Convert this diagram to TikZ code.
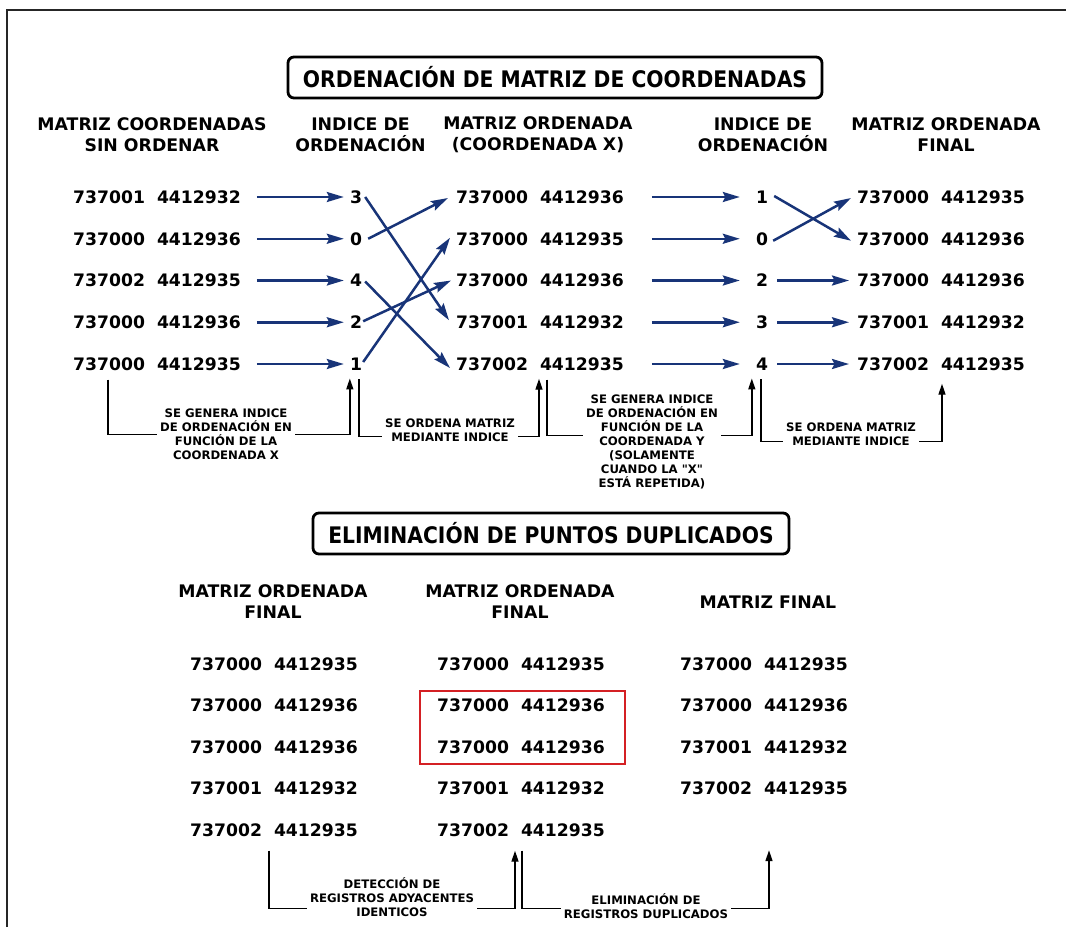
\documentclass[tikz,border=0pt]{standalone}
\usepackage{fontspec}
\setmainfont{DejaVu Sans}
\newfontfamily\titlefont[FakeStretch=0.89]{DejaVu Sans}
\newfontfamily\rawfont[Ligatures=TeXOff]{DejaVu Sans}
\usetikzlibrary{arrows.meta,calc}
\definecolor{navy}{RGB}{24,52,120}
\definecolor{boxred}{RGB}{212,32,36}
\begin{document}
\begin{tikzpicture}[x=1pt,y=-1pt,
  num/.style={font=\bfseries\fontsize{17.2}{21}\selectfont, inner sep=0pt, anchor=west},
  idx/.style={font=\bfseries\fontsize{17.2}{21}\selectfont, inner sep=0pt},
  head/.style={font=\bfseries\fontsize{17.3}{21}\selectfont, align=center, inner sep=0pt},
  note/.style={font=\bfseries\fontsize{11.7}{14}\selectfont, align=center, fill=white, inner sep=3pt},
  titlebox/.style={draw, line width=2.8pt, rounded corners=6pt, font=\titlefont\bfseries\fontsize{22.8}{26}\selectfont, inner sep=0pt},
  flow/.style={draw=navy, line width=2.5pt, -{Stealth[length=17pt,width=10pt,inset=2.5pt]}},
  bracket/.style={draw=black, line width=1.4pt, -{Triangle[length=11pt,width=7pt]}},
  frame/.style={draw=black!85, line width=2pt},
  redbox/.style={draw=boxred, line width=2pt}
]
\useasboundingbox (0,0) rectangle (1066,927);
\fill[white] (0,0) rectangle (1066,927);
\draw[frame] (7,927) -- (7,10) -- (1066,10);

% ---------- sorting of the coordinate matrix ----------
\node[titlebox, minimum width=534pt, minimum height=41pt] (t1) at (555,77.5) {ORDENACIÓN DE MATRIZ DE COORDENADAS};

\node[head] (hA) at (152,134.5) {MATRIZ COORDENADAS\\SIN ORDENAR};
\node[head] (hP) at (360.5,134.5) {INDICE DE\\ORDENACIÓN};
\node[head] (hB) at (538,134.5) {MATRIZ ORDENADA\\(COORDENADA X)};
\node[head] (hQ) at (763,134.5) {INDICE DE\\ORDENACIÓN};
\node[head] (hC) at (946,134.5) {MATRIZ ORDENADA\\FINAL};

% unsorted matrix
\node[num] (a1) at (73,197)    {737001\hspace{12pt}4412932};
\node[num] (a2) at (73,238.75) {737000\hspace{12pt}4412936};
\node[num] (a3) at (73,280.5)  {737002\hspace{12pt}4412935};
\node[num] (a4) at (73,322.25) {737000\hspace{12pt}4412936};
\node[num] (a5) at (73,364)    {737000\hspace{12pt}4412935};
% first sort index
\node[idx] (p1) at (356,197)    {3};
\node[idx] (p2) at (356,238.75) {0};
\node[idx] (p3) at (356,280.5)  {4};
\node[idx] (p4) at (356,322.25) {2};
\node[idx] (p5) at (356,364)    {1};
% matrix sorted by X
\node[num] (b1) at (456,197)    {737000\hspace{12pt}4412936};
\node[num] (b2) at (456,238.75) {737000\hspace{12pt}4412935};
\node[num] (b3) at (456,280.5)  {737000\hspace{12pt}4412936};
\node[num] (b4) at (456,322.25) {737001\hspace{12pt}4412932};
\node[num] (b5) at (456,364)    {737002\hspace{12pt}4412935};
% second sort index
\node[idx] (q1) at (762,197)    {1};
\node[idx] (q2) at (762,238.75) {0};
\node[idx] (q3) at (762,280.5)  {2};
\node[idx] (q4) at (762,322.25) {3};
\node[idx] (q5) at (762,364)    {4};
% final sorted matrix
\node[num] (c1) at (857,197)    {737000\hspace{12pt}4412935};
\node[num] (c2) at (857,238.75) {737000\hspace{12pt}4412936};
\node[num] (c3) at (857,280.5)  {737000\hspace{12pt}4412936};
\node[num] (c4) at (857,322.25) {737001\hspace{12pt}4412932};
\node[num] (c5) at (857,364)    {737002\hspace{12pt}4412935};

% matrix -> index
\foreach \i in {1,...,5}
  \draw[flow] ($(a\i.east)+(16,0)$) -- ($(p\i.west)+(-6,0)$);
% index -> matrix sorted by X
\draw[flow] ($(p1.east)+(3,0)$)  -- ($(b4.west)+(-7,-2)$);
\draw[flow] ($(p2.east)+(6,0)$)  -- ($(b1.west)+(-8,1)$);
\draw[flow] ($(p3.east)+(3,1)$)  -- ($(b5.west)+(-6,4)$);
\draw[flow] ($(p4.east)+(1,-1)$) -- ($(b3.west)+(-5,0)$);
\draw[flow] ($(p5.east)+(1,-2)$) -- ($(b2.west)+(-6,-1)$);
% matrix sorted by X -> second index
\foreach \i in {1,...,5}
  \draw[flow] ($(b\i.east)+(28,0)$) -- ($(q\i.west)+(-16,0)$);
% second index -> final matrix
\draw[flow] ($(q1.east)+(6,-1)$) -- ($(c2.west)+(-6,2)$);
\draw[flow] ($(q2.east)+(5,2)$)  -- ($(c1.west)+(-6,1)$);
\foreach \i in {3,4,5}
  \draw[flow] ($(q\i.east)+(9,0)$) -- ($(c\i.west)+(-8,0)$);

% step annotations
\draw[bracket] ($(a5.south west)+(35,9)$) |- ($(p5.south west)+(0,64)$) -- ($(p5.south west)+(0,8)$);
\draw[bracket] ($(p5.south east)+(-3,9)$) |- ($(b5.south west)+(83,66)$) -- ($(b5.south west)+(83,8)$);
\draw[bracket] ($(b5.south west)+(91,9)$) |- ($(q5.south west)+(-4,65)$) -- ($(q5.south west)+(-4,8)$);
\draw[bracket] ($(q5.south)+(-1,9)$) |- ($(c5.south west)+(85,71)$) -- ($(c5.south west)+(85,13)$);

\node[note] (n1) at (226,434) {SE GENERA INDICE\\DE ORDENACIÓN EN\\FUNCIÓN DE LA\\COORDENADA X};
\node[note] (n2) at (450,430) {SE ORDENA MATRIZ\\MEDIANTE INDICE};
\node[note] (n3) at (652,441.5) {SE GENERA INDICE\\DE ORDENACIÓN EN\\FUNCIÓN DE LA\\COORDENADA Y\\(SOLAMENTE\\CUANDO LA {\rawfont\bfseries "X"}\\ESTÁ REPETIDA)};
\node[note] (n4) at (851,434) {SE ORDENA MATRIZ\\MEDIANTE INDICE};

% ---------- removal of duplicated points ----------
\node[titlebox, minimum width=476pt, minimum height=41pt] (t2) at (551,533.5) {ELIMINACIÓN DE PUNTOS DUPLICADOS};

\node[head] (hD) at (273,602) {MATRIZ ORDENADA\\FINAL};
\node[head] (hE) at (520,602) {MATRIZ ORDENADA\\FINAL};
\node[head] (hF) at (768,602) {MATRIZ FINAL};

\node[num] (d1) at (190,664)   {737000\hspace{12pt}4412935};
\node[num] (d2) at (190,705.5) {737000\hspace{12pt}4412936};
\node[num] (d3) at (190,747)   {737000\hspace{12pt}4412936};
\node[num] (d4) at (190,788.5) {737001\hspace{12pt}4412932};
\node[num] (d5) at (190,830)   {737002\hspace{12pt}4412935};

\node[num] (e1) at (437,664)   {737000\hspace{12pt}4412935};
\node[num] (e2) at (437,705.5) {737000\hspace{12pt}4412936};
\node[num] (e3) at (437,747)   {737000\hspace{12pt}4412936};
\node[num] (e4) at (437,788.5) {737001\hspace{12pt}4412932};
\node[num] (e5) at (437,830)   {737002\hspace{12pt}4412935};

\node[num] (f1) at (680,664)   {737000\hspace{12pt}4412935};
\node[num] (f2) at (680,705.5) {737000\hspace{12pt}4412936};
\node[num] (f3) at (680,747)   {737001\hspace{12pt}4412932};
\node[num] (f4) at (680,788.5) {737002\hspace{12pt}4412935};

% adjacent identical records
\draw[redbox] ($(e2.north west)+(-17,-8)$) rectangle ($(e3.south east)+(20,10)$);

\draw[bracket] ($(d5.south west)+(79,14)$) |- ($(e5.south west)+(78,72)$) -- ($(e5.south west)+(78,14)$);
\draw[bracket] ($(e5.south west)+(85,14)$) |- ($(f4.south west)+(89,113)$) -- ($(f4.south west)+(89,55)$);

\node[note] (n5) at (392,897) {DETECCIÓN DE\\REGISTROS ADYACENTES\\IDENTICOS};
\node[note] (n6) at (646,906.5) {ELIMINACIÓN DE\\REGISTROS DUPLICADOS};
\end{tikzpicture}
\end{document}
